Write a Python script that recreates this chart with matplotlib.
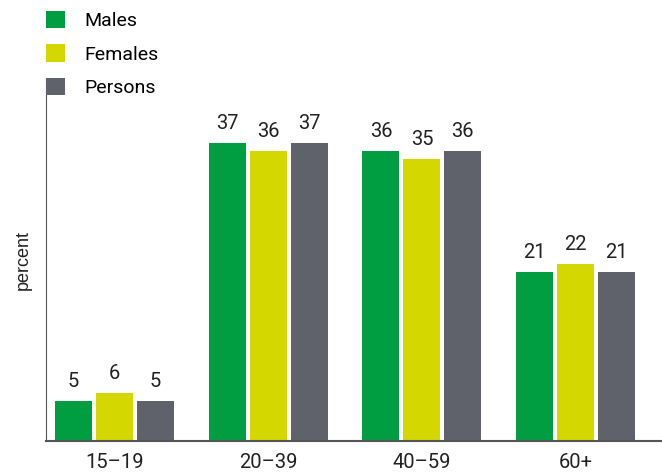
import matplotlib.pyplot as plt
import numpy as np

plt.rcParams['font.family'] = ['Roboto', 'DejaVu Sans']

age_groups = ['15–19', '20–39', '40–59', '60+']
males = [5, 37, 36, 21]
females = [6, 36, 35, 22]
persons = [5, 37, 36, 21]

series = [('Males', males, '#009e40'),
          ('Females', females, '#d4d800'),
          ('Persons', persons, '#5f616b')]

fig = plt.figure(figsize=(6.62, 4.74), dpi=100)
ax = fig.add_axes([46 / 662, 33 / 474, 1 - 46 / 662, 363 / 474])

x = np.arange(len(age_groups))
width = 37 / 154
step = 41 / 154

for i, (name, vals, color) in enumerate(series):
    pos = x + (i - 1) * step
    bars = ax.bar(pos, vals, width, color=color, label=name)
    for b, v in zip(bars, vals):
        ax.text(b.get_x() + b.get_width() / 2, v + 1.2, str(v),
                ha='center', va='bottom', fontsize=14.5, color='#222222')

ax.set_xlim(-68.5 / 154, 3 + 86.5 / 154)
ax.set_ylim(0, 45)
ax.set_xticks(x)
ax.set_xticklabels(age_groups, fontsize=14.5, color='#222222')
ax.tick_params(axis='x', length=0, pad=9)
ax.set_yticks([])
ax.set_ylabel('percent', fontsize=13, family=['Liberation Sans', 'DejaVu Sans'],
              labelpad=10, color='#222222')

for s in ['top', 'right']:
    ax.spines[s].set_visible(False)
ax.spines['left'].set_color('#555555')
ax.spines['bottom'].set_color('#555555')
ax.spines['bottom'].set_linewidth(1.5)

leg = fig.legend(loc='upper left', bbox_to_anchor=(38 / 662, 1 - 3 / 474),
                 frameon=False, fontsize=14, handlelength=1.0, handleheight=1.0,
                 labelspacing=0.72, handletextpad=1.0, borderaxespad=0)

fig.savefig('out.png', dpi=100)
